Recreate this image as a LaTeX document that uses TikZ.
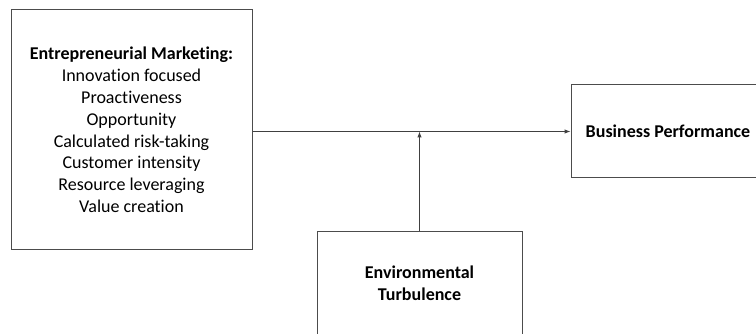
\documentclass[tikz,border=0pt]{standalone}
\usepackage{fontspec}
\setmainfont{Carlito}[RawFeature={-liga;-clig;-calt;-dlig}]
\usetikzlibrary{arrows.meta,positioning}

\begin{document}
\begin{tikzpicture}[x=1pt,y=-1pt,>={Latex[length=6pt,width=4.5pt]},
  box/.style={draw=black!70,line width=1pt,align=center,inner sep=0pt,
    font=\fontsize{18}{21.8}\selectfont},
  boldbox/.style={box,font=\fontsize{18}{21.8}\selectfont\bfseries}]
\useasboundingbox (0,0) rectangle (756,334);
\clip (0,0) rectangle (756,334);
\node[box,minimum width=241pt,minimum height=240pt] (em) at (131.5,130)
  {\textbf{Entrepreneurial Marketing:}\\Innovation focused\\Proactiveness\\Opportunity\\
   Calculated risk-taking\\Customer intensity\\Resource leveraging\\Value creation};
\node[boldbox,minimum width=194pt,minimum height=93pt] (bp) at (668,131.5) {Business Performance};
\node[boldbox,minimum width=205pt,minimum height=103pt] (et) at (419.5,283.5) {Environmental\\Turbulence};
\coordinate (join) at (et.north |- bp.west);
\draw[->,draw=black!75,line width=1pt] (bp.west -| em.east) -- (bp.west);
\draw[->,draw=black!75,line width=1pt] (et.north) -- (join);
\end{tikzpicture}
\end{document}
